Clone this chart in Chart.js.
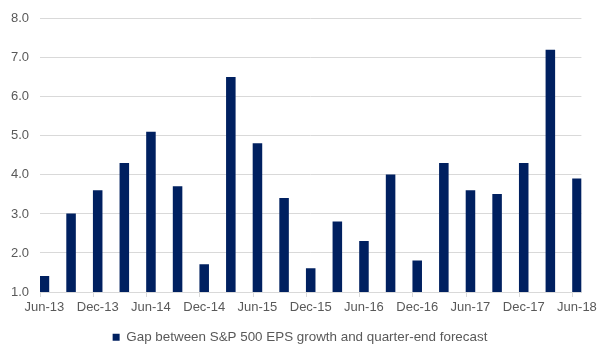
<!DOCTYPE html>
<html>
<head>
<meta charset="utf-8">
<script src="https://cdn.jsdelivr.net/npm/chart.js@4"></script>
<style>
  html, body { margin: 0; padding: 0; background: #ffffff; }
  #wrap { width: 600px; height: 360px; position: relative; }
</style>
</head>
<body>
<div id="wrap"><canvas id="c" width="600" height="360"></canvas></div>
<script>
// Quarter-end dates and the gap values
const quarters = ['Jun-13','Sep-13','Dec-13','Mar-14','Jun-14','Sep-14','Dec-14','Mar-15','Jun-15','Sep-15','Dec-15','Mar-16','Jun-16','Sep-16','Dec-16','Mar-17','Jun-17','Sep-17','Dec-17','Mar-18','Jun-18'];
const gapValues = [1.4, 3.0, 3.6, 4.3, 5.1, 3.7, 1.7, 6.5, 4.8, 3.4, 1.6, 2.8, 2.3, 4.0, 1.8, 4.3, 3.6, 3.5, 4.3, 7.2, 3.9];
const tickLabels = ['Jun-13','Dec-13','Jun-14','Dec-14','Jun-15','Dec-15','Jun-16','Dec-16','Jun-17','Dec-17','Jun-18'];
const yTicks = [1, 2, 3, 4, 5, 6, 7, 8];
const seriesName = 'Gap between S&P 500 EPS growth and quarter-end forecast';

// Monthly date axis (like a spreadsheet date axis), Jun-13 .. Jun-18
const monthNames = ['Jan','Feb','Mar','Apr','May','Jun','Jul','Aug','Sep','Oct','Nov','Dec'];
const monthLabels = [];
for (let y = 13; y <= 18; y++) {
  for (let m = 0; m < 12; m++) {
    if (y === 13 && m < 5) continue;
    if (y === 18 && m > 5) continue;
    monthLabels.push(monthNames[m] + '-' + y);
  }
}
const monthlyData = monthLabels.map(l => {
  const i = quarters.indexOf(l);
  return i >= 0 ? gapValues[i] : null;
});

const textColor = '#595959';
const gridColor = '#d9d9d9';
const fontFamily = '"Liberation Sans", Arial, sans-serif';

new Chart(document.getElementById('c'), {
  type: 'bar',
  data: {
    labels: monthLabels,
    datasets: [{
      label: seriesName,
      data: monthlyData,
      backgroundColor: '#002060',
      borderWidth: 0,
      barPercentage: 1.0,
      categoryPercentage: 1.0
    }]
  },
  options: {
    responsive: false,
    animation: false,
    devicePixelRatio: 1,
    layout: { padding: { left: 0, right: 0, top: 18, bottom: 6 } },
    plugins: {
      legend: {
        position: 'bottom',
        labels: {
          color: textColor,
          boxWidth: 7,
          boxHeight: 7,
          padding: 12,
          font: { family: fontFamily, size: 13.4 }
        }
      },
      tooltip: { enabled: false }
    },
    scales: {
      x: {
        type: 'category',
        offset: true,
        grid: {
          display: true,
          offset: true,
          drawOnChartArea: false,
          drawTicks: true,
          tickLength: 5,
          color: ctx => (ctx.index % 6 === 0 ? gridColor : 'rgba(0,0,0,0)')
        },
        border: { display: true, color: gridColor },
        ticks: {
          autoSkip: false,
          maxRotation: 0,
          minRotation: 0,
          padding: 3,
          color: textColor,
          font: { family: fontFamily, size: 13 },
          callback: function(value, index) {
            const l = this.getLabelForValue(value);
            return tickLabels.includes(l) ? l : '';
          }
        }
      },
      y: {
        min: yTicks[0],
        max: yTicks[yTicks.length - 1],
        afterBuildTicks: scale => { scale.ticks = yTicks.map(v => ({ value: v })); },
        afterFit: scale => { scale.width = 40; },
        grid: { color: gridColor, drawTicks: false },
        border: { display: false },
        ticks: {
          padding: 11,
          color: textColor,
          font: { family: fontFamily, size: 13 },
          callback: v => Number(v).toFixed(1)
        }
      },
      spacer: {
        type: 'linear',
        position: 'right',
        display: true,
        afterFit: scale => { scale.width = 18; },
        grid: { display: false, drawTicks: false },
        border: { display: false },
        ticks: { display: false }
      }
    }
  }
});
</script>
</body>
</html>
